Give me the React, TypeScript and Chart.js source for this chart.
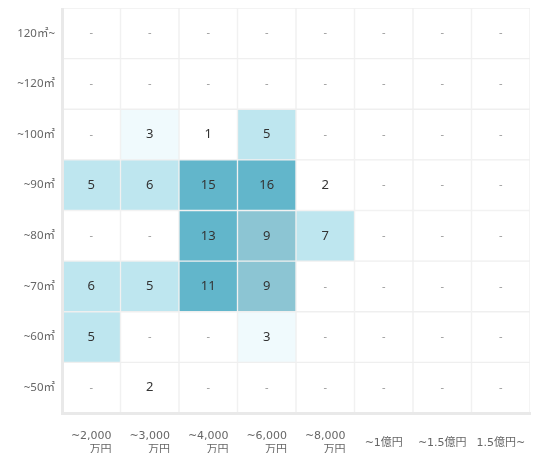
import React, { useEffect, useRef } from "react";
import { Chart, registerables } from "chart.js";

Chart.register(...registerables);

// Price categories (x axis)
const priceLabels: (string | string[])[] = [
  ["~2,000", "万円"],
  ["~3,000", "万円"],
  ["~4,000", "万円"],
  ["~6,000", "万円"],
  ["~8,000", "万円"],
  "~1億円",
  "~1.5億円",
  "1.5億円~",
];

// Area categories (y axis), bottom to top
const areaLabels = ["~50㎡", "~60㎡", "~70㎡", "~80㎡", "~90㎡", "~100㎡", "~120㎡", "120㎡~"];

// Counts per area row (same order as priceLabels)
const row50: (number | null)[] = [null, 2, null, null, null, null, null, null];
const row60: (number | null)[] = [5, null, null, 3, null, null, null, null];
const row70: (number | null)[] = [6, 5, 11, 9, null, null, null, null];
const row80: (number | null)[] = [null, null, 13, 9, 7, null, null, null];
const row90: (number | null)[] = [5, 6, 15, 16, 2, null, null, null];
const row100: (number | null)[] = [null, 3, 1, 5, null, null, null, null];
const row120: (number | null)[] = [null, null, null, null, null, null, null, null];
const row120plus: (number | null)[] = [null, null, null, null, null, null, null, null];

const rows = [row50, row60, row70, row80, row90, row100, row120, row120plus];

function cellColor(v: number | null): string {
  if (v == null || v < 3) return "#ffffff";
  if (v < 5) return "#f0fafd";
  if (v < 9) return "#bee6ef";
  if (v < 11) return "#8cc5d3";
  return "#62b6cb";
}

const cellLabelPlugin = {
  id: "cellLabels",
  afterDatasetsDraw(chart: any) {
    const ctx = chart.ctx;
    ctx.save();
    ctx.textAlign = "center";
    ctx.textBaseline = "middle";
    chart.data.datasets.forEach((_ds: any, d: number) => {
      const meta = chart.getDatasetMeta(d);
      meta.data.forEach((el: any, i: number) => {
        const v = rows[d][i];
        const { x, y, base } = el.getProps(["x", "y", "base"], true);
        const cy = (y + base) / 2;
        if (v == null) {
          ctx.fillStyle = "#999999";
          ctx.font = '11px "Noto Sans", "Noto Sans CJK JP"';
          ctx.fillText("-", x, cy);
        } else {
          ctx.fillStyle = "#333333";
          ctx.font = '13px "Noto Sans", "Noto Sans CJK JP"';
          ctx.fillText(String(v), x, cy);
        }
      });
    });
    ctx.restore();
  },
};

const xLabelPlugin = {
  id: "xLabels",
  afterDraw(chart: any) {
    const ctx = chart.ctx;
    const xs = chart.scales.x;
    const bottom = chart.chartArea.bottom;
    ctx.save();
    ctx.font = '11px "DejaVu Sans", "Noto Sans CJK JP"';
    ctx.fillStyle = "#666666";
    ctx.textBaseline = "middle";
    priceLabels.forEach((lab, i) => {
      const cx = xs.getPixelForValue(i);
      if (Array.isArray(lab)) {
        const w = Math.max(...lab.map((l) => ctx.measureText(l).width));
        const right = cx + w / 2;
        ctx.textAlign = "right";
        ctx.fillText(lab[0], right, bottom + 23);
        ctx.fillText(lab[1], right, bottom + 37);
      } else {
        ctx.textAlign = "center";
        ctx.fillText(lab, cx, bottom + 30);
      }
    });
    ctx.restore();
  },
};

export default function App() {
  const canvasRef = useRef<HTMLCanvasElement | null>(null);

  useEffect(() => {
    if (!canvasRef.current) return;
    const chart = new Chart(canvasRef.current, {
      type: "bar",
      data: {
        labels: priceLabels.map((l) => (Array.isArray(l) ? l.join(" ") : l)),
        datasets: rows.map((row, r) => ({
          data: row.map(() => [r, r + 1]),
          backgroundColor: row.map(cellColor),
          borderColor: "#efefef",
          borderWidth: 1,
          borderSkipped: false,
          barPercentage: 1,
          categoryPercentage: 1,
          grouped: false,
        })) as any,
      },
      options: {
        animation: false,
        responsive: true,
        maintainAspectRatio: false,
        layout: { padding: { top: 0, right: 10, left: 0, bottom: 0 } },
        plugins: {
          legend: { display: false },
          tooltip: { enabled: false },
        },
        scales: {
          x: {
            type: "category",
            grid: { display: false, drawTicks: false },
            border: { display: true, color: "#e9e9e9", width: 3, z: 1 },
            ticks: { display: false },
            afterFit: (s: any) => {
              s.height = 40;
              s.paddingLeft = 0;
              s.paddingRight = 0;
            },
          },
          y: {
            type: "linear",
            min: 0,
            max: 8,
            grid: { display: false, drawTicks: false },
            border: { display: true, color: "#e9e9e9", width: 3, z: 1 },
            afterBuildTicks: (s: any) => {
              s.ticks = areaLabels.map((_, i) => ({ value: i + 0.5 }));
            },
            ticks: {
              callback: (v: any) => areaLabels[Math.floor(Number(v))],
              font: { family: '"Noto Sans", "Noto Sans CJK JP"', size: 11.5 },
              color: "#666666",
              padding: 7,
            },
            afterFit: (s: any) => {
              s.width = 54;
              s.paddingTop = 0;
              s.paddingBottom = 0;
            },
          },
        },
      } as any,
      plugins: [cellLabelPlugin, xLabelPlugin],
    });
    return () => chart.destroy();
  }, []);

  return (
    <div style={{ width: 532, height: 445, position: "relative" }}>
      <canvas ref={canvasRef} />
    </div>
  );
}
